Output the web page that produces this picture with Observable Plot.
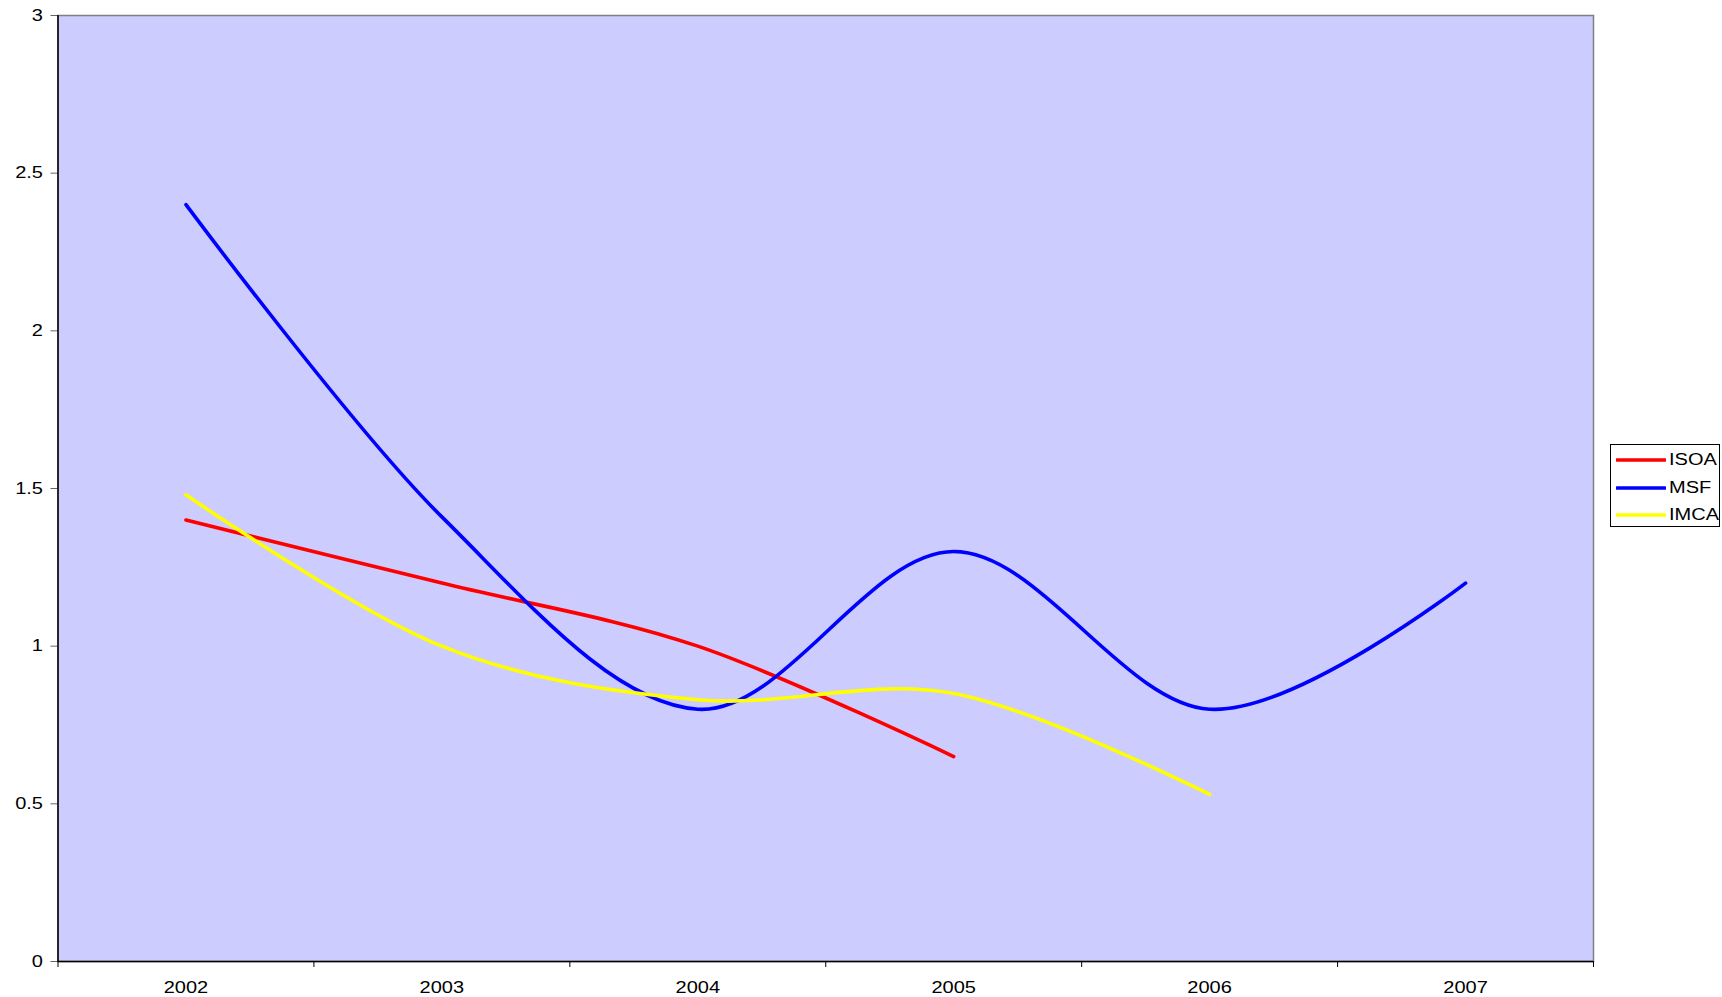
<!DOCTYPE html>
<html>
<head>
<meta charset="utf-8">
<script src="https://cdn.jsdelivr.net/npm/d3@7"></script>
<script src="https://cdn.jsdelivr.net/npm/@observablehq/plot@0.6"></script>
<style>
  html, body { margin: 0; padding: 0; background: #fff; }
  #wrap { position: relative; width: 1722px; height: 997px; }
  svg text { font-family: "Liberation Sans", Arial, sans-serif; }
  #legend { position: absolute; left: 1610px; top: 444px; width: 110px; height: 83px; border: 1px solid #000; background: #fff; box-sizing: border-box;
    font-family: "Liberation Sans", Arial, sans-serif; font-size: 16px; }
  .item { position: absolute; left: 5px; height: 20px; display: flex; align-items: center; }
  .item span { display: inline-block; transform: scaleX(1.25); transform-origin: left center; margin-left: 3px; }
</style>
</head>
<body>
<div id="wrap"></div>
<script>
const years = [2002, 2003, 2004, 2005, 2006, 2007];
const seriesNames = ["ISOA", "MSF", "IMCA"];
const seriesColors = ["#FF0000", "#0000FF", "#FFFF00"];
const isoa = [1.40, 1.20, 1.00, 0.65, null, null];
const msf  = [2.40, 1.41, 0.80, 1.30, 0.80, 1.20];
const imca = [1.48, 1.00, 0.83, 0.85, 0.53, null];
const yTicks = [0, 0.5, 1, 1.5, 2, 2.5, 3];
const xBounds = [2001.5, 2002.5, 2003.5, 2004.5, 2005.5, 2006.5, 2007.5];

const valuesBySeries = [isoa, msf, imca];
const data = [];
seriesNames.forEach((name, i) => {
  years.forEach((yr, j) => {
    const v = valuesBySeries[i][j];
    if (v != null) data.push({series: name, year: yr, value: v});
  });
});

const chart = Plot.plot({
  width: 1722,
  height: 997,
  marginLeft: 57.5,
  marginRight: 129,
  marginTop: 15,
  marginBottom: 36,
  style: {fontFamily: "Liberation Sans, Arial, sans-serif", fontSize: "16px", background: "#fff", color: "#000"},
  x: {domain: [2001.5, 2007.5], label: null},
  y: {domain: [0, 3], label: null},
  color: {domain: seriesNames, range: seriesColors},
  marks: [
    Plot.frame({fill: "#CCCCFF", stroke: "#808080", strokeWidth: 1.5}),
    Plot.axisY({ticks: yTicks, tickSize: 7, tickPadding: 8, stroke: "#666", tickFormat: d => String(d), fontSize: 16, label: null}),
    Plot.axisX({ticks: years, tickSize: 0, tickPadding: 20, tickFormat: d => String(d), fontSize: 16, label: null}),
    Plot.axisX({ticks: xBounds, tickSize: 6, tickFormat: () => "", stroke: "#000", label: null}),
    Plot.ruleX([xBounds[0]], {stroke: "#000", strokeWidth: 1.5}),
    Plot.ruleY([yTicks[0]], {stroke: "#000", strokeWidth: 1.5}),
    Plot.line(data, {x: "year", y: "value", z: "series", stroke: "series", strokeWidth: 3.6, curve: "cardinal", tension: 0, strokeLinecap: "round", strokeLinejoin: "round"})
  ]
});

const wrap = document.getElementById("wrap");
wrap.appendChild(chart);

// widen axis tick labels horizontally (the reference text is stretched)
chart.querySelectorAll('g[aria-label="y-axis tick label"] text, g[aria-label="x-axis tick label"] text').forEach(t => {
  const bb = t.getBBox();
  const anchor = getComputedStyle(t).textAnchor || t.getAttribute("text-anchor") || t.parentNode.getAttribute("text-anchor");
  let ax = bb.x + bb.width / 2;
  if (anchor === "end") ax = bb.x + bb.width;
  else if (anchor === "start") ax = bb.x;
  const T = t.getAttribute("transform") || "";
  t.setAttribute("transform", `${T} translate(${ax},0) scale(1.25,1) translate(${-ax},0)`);
});

const legend = document.createElement("div");
legend.id = "legend";
seriesNames.forEach((name, i) => {
  const item = document.createElement("div");
  item.className = "item";
  item.style.top = (5 + i * 27.5) + "px";
  item.innerHTML = `<svg width="50" height="6"><line x1="1" y1="3" x2="49" y2="3" stroke="${seriesColors[i]}" stroke-width="3.6" stroke-linecap="round"/></svg><span>${name}</span>`;
  legend.appendChild(item);
});
wrap.appendChild(legend);
</script>
</body>
</html>
